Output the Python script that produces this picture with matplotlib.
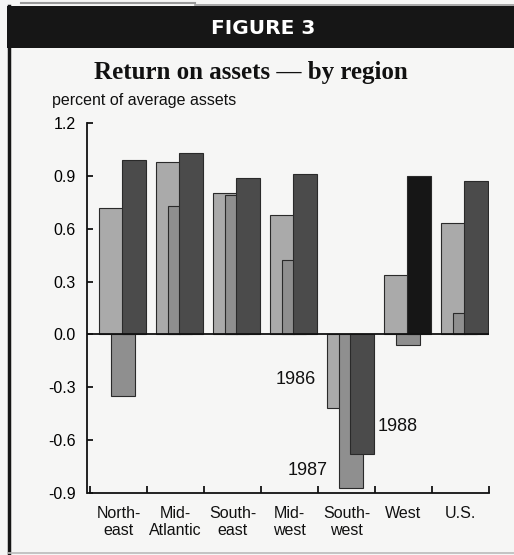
import numpy as np
import matplotlib
matplotlib.use("Agg")
import matplotlib.pyplot as plt
from matplotlib.patches import Rectangle
from matplotlib.lines import Line2D

regions = ["North-\neast", "Mid-\nAtlantic", "South-\neast", "Mid-\nwest",
           "South-\nwest", "West", "U.S."]
roa_1986 = [0.72, 0.98, 0.80, 0.68, -0.42, 0.34, 0.63]
roa_1987 = [-0.35, 0.73, 0.79, 0.42, -0.87, -0.06, 0.12]
roa_1988 = [0.99, 1.03, 0.89, 0.91, -0.68, 0.90, 0.87]
yticks = [-0.9, -0.6, -0.3, 0.0, 0.3, 0.6, 0.9, 1.2]

plt.rcParams['font.family'] = ['Liberation Sans', 'DejaVu Sans']

fig = plt.figure(figsize=(5.14, 5.55), dpi=100, facecolor="#f6f6f5")
W, H = 514, 555

# black header band + frame lines
fig.patches.append(Rectangle((7 / W, 1 - 48 / H), 1, 42 / H, transform=fig.transFigure,
                             facecolor="#161616", edgecolor="none"))
fig.lines.append(Line2D([8.5 / W, 8.5 / W], [1 - 6 / H, 1 - 553 / H], transform=fig.transFigure,
                        color="#161616", lw=2.5))
fig.lines.append(Line2D([0.04, 0.38], [1 - 3 / H, 1 - 3 / H], transform=fig.transFigure,
                        color="#999999", lw=1.5))
fig.lines.append(Line2D([0.38, 1.0], [1 - 5 / H, 1 - 5 / H], transform=fig.transFigure,
                        color="#999999", lw=1.2))
fig.lines.append(Line2D([8 / W, 1.0], [1 - 553 / H, 1 - 553 / H], transform=fig.transFigure,
                        color="#bbbbbb", lw=1.2))

fig.text(263 / W, 1 - 28 / H, "FIGURE 3", color="white", fontsize=14.5, fontweight="bold",
         family="DejaVu Sans", ha="center", va="center")
fig.text(251 / W, 1 - 72 / H, "Return on assets \u2014 by region", family="Liberation Serif",
         fontsize=18, fontweight="bold", ha="center", va="center", color="#111111")
fig.text(52 / W, 1 - 101 / H, "percent of average assets", fontsize=11.5,
         ha="left", va="center", color="#111111")

ax = fig.add_axes([87 / W, (H - 493) / H, 402 / W, 370 / H])
ax.set_facecolor("none")

x = np.arange(len(regions))
w = 0.42
c88 = ["#4b4b4b"] * len(regions)
c88[5] = "#161616"
ax.bar(x - 0.132, roa_1986, w, color="#aaaaaa", edgecolor="#2a2a2a", lw=0.8, zorder=1)
ax.bar(x + 0.078, roa_1987, w, color="#8f8f8f", edgecolor="#2a2a2a", lw=0.8, zorder=2)
ax.bar(x + 0.27, roa_1988, w, color=c88, edgecolor="#2a2a2a", lw=0.8, zorder=3)

ax.axhline(0, color="#111111", lw=1.3, zorder=4)

ax.set_xlim(-0.553, 6.5)
ax.set_ylim(-0.9, 1.2)
ax.set_yticks(yticks)
ax.set_yticklabels([f"{v:.1f}" for v in yticks])
ax.set_xticks(x)
ax.set_xticklabels(regions, linespacing=1.2)
ax.set_xticks(np.arange(-0.5, 7, 1), minor=True)
ax.tick_params(axis="x", which="major", length=0, labelsize=11.5, pad=9, colors="#111111")
ax.tick_params(axis="x", which="minor", direction="in", length=5, width=1.2)
ax.tick_params(axis="y", direction="in", length=4, width=1.2, labelsize=11.5, pad=8)

for s in ["top", "right"]:
    ax.spines[s].set_visible(False)
for s in ["left", "bottom"]:
    ax.spines[s].set_linewidth(1.3)
    ax.spines[s].set_color("#111111")
ax.spines["bottom"].set_bounds(-0.5, 6.5)

ax.text(3.114, -0.253, "1986", fontsize=13, ha="center", va="center", color="#111111")
ax.text(3.324, -0.775, "1987", fontsize=13, ha="center", va="center", color="#111111")
ax.text(4.903, -0.525, "1988", fontsize=13, ha="center", va="center", color="#111111")

fig.savefig("out.png", dpi=100, facecolor=fig.get_facecolor())
